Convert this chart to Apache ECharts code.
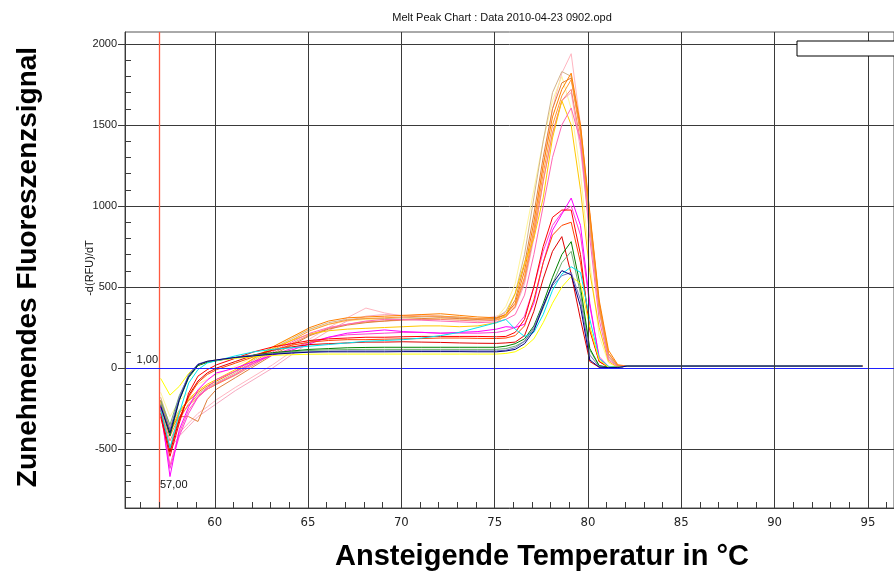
<!DOCTYPE html>
<html><head><meta charset="utf-8">
<script src="https://cdn.jsdelivr.net/npm/echarts@6/dist/echarts.min.js"></script>
<style>html,body{margin:0;padding:0;background:#fff}#c{width:894px;height:574px}</style>
</head><body><div id="c"></div>
<script>
// Temperatures (°C) at which each melt curve is sampled
const temps = [57.1,57.6,58.1,58.6,59.1,59.6,60.1,61.1,62.1,63.1,
  64.1,65.1,66.1,67.1,68.1,69.1,70.1,71.1,72.1,73.1,
  74.1,75.1,75.6,76.1,76.6,77.1,77.6,78.1,78.6,79.1,
  79.6,80.1,80.6,81.1,81.6,82.1,85.1,90.1,94.7];

// -d(RFU)/dT values per well
const lightPink = [-240,-480,-400,-340,-280,-240,-195,-120,-50,20, 100,180,250,310,370,340,320,330,320,310, 300,320,340,390,560,860,1250,1600,1820,1940, 1500,950,400,80,15,12,12,12,12];
const orange = [-200,-400,-280,-200,-150,-110,-80,-20,60,130, 190,250,290,310,315,320,325,330,335,325, 315,310,330,400,600,900,1250,1550,1720,1820, 1500,960,420,110,20,12,12,12,12];
const orange2 = [-220,-420,-300,-230,-180,-130,-100,-40,40,110, 170,230,270,295,305,310,315,320,320,315, 305,300,315,380,560,850,1200,1500,1680,1780, 1450,920,380,90,15,12,12,12,12];
const tan = [-180,-360,-260,-200,-160,-120,-90,-30,50,120, 180,240,280,300,305,305,310,315,320,310, 300,310,350,460,700,1050,1400,1700,1830,1800, 1450,900,380,70,10,12,12,12,12];
const paleYellow = [-150,-300,-200,-150,-100,-70,-40,10,70,130, 190,240,270,290,300,300,300,305,305,300, 300,310,380,520,800,1100,1400,1650,1800,1600, 1200,650,200,30,5,12,12,12,12];
const gold = [-210,-390,-270,-190,-140,-100,-70,-10,60,120, 170,210,230,240,245,250,255,260,260,255, 260,280,330,460,650,800,1050,1420,1650,1500, 1100,590,250,40,5,12,12,12,12];
const hotPink = [-230,-600,-400,-260,-180,-130,-95,-40,30,100, 160,215,250,270,290,300,300,295,290,285, 280,285,300,330,450,700,1000,1300,1500,1605, 1400,800,300,50,10,12,12,12,12];
const salmon = [-250,-450,-320,-220,-170,-130,-100,-45,20,90, 150,205,245,270,285,290,295,300,300,295, 290,295,320,380,540,820,1150,1450,1650,1720, 1400,880,360,70,10,12,12,12,12];
const chocolate = [-200,-380,-300,-300,-330,-195,-130,-60,10,80, 140,200,240,265,280,290,300,305,310,305, 300,305,330,420,640,950,1300,1600,1760,1790, 1480,940,400,90,15,12,12,12,12];
const pink = [-260,-500,-420,-360,-300,-260,-220,-140,-70,0, 80,160,230,290,320,330,325,320,315,310, 305,310,330,370,520,800,1150,1450,1650,1700, 1350,850,350,60,10,12,12,12,12];
const magenta = [-240,-670,-380,-240,-135,-75,-30,0,40,80, 110,150,190,215,225,235,225,220,215,220, 225,240,255,250,270,400,650,850,950,1049, 880,400,60,10,5,12,12,12,12];
const magenta2 = [-280,-620,-420,-280,-180,-120,-70,-20,30,80, 120,160,190,205,210,215,220,220,215,215, 215,220,230,250,320,500,720,880,960,1000, 820,380,70,10,5,12,12,12,12];
const red = [-300,-545,-340,-155,-50,-10,20,60,100,130, 150,170,180,185,190,190,193,195,195,195, 195,193,195,220,300,500,750,930,975,975, 700,230,40,5,5,12,12,12,12];
const red2 = [-280,-520,-320,-170,-80,-30,0,40,80,110, 130,145,150,155,160,160,162,160,158,155, 153,152,155,160,200,350,550,720,811,580, 300,40,5,5,5,12,12,12,12];
const orangeRed = [-260,-500,-310,-180,-90,-40,-10,30,70,110, 140,160,170,175,175,178,180,182,185,185, 183,182,185,200,260,420,650,820,880,900, 650,250,40,5,5,12,12,12,12];
const green = [-230,-420,-200,-60,15,35,45,65,80,95, 105,115,120,125,127,128,128,128,128,128, 128,128,135,150,180,260,400,560,700,780, 500,120,15,5,5,12,12,12,12];
const lightGreen = [-200,-350,-170,-50,15,38,48,63,78,90, 100,108,112,114,115,115,115,115,115,115, 115,115,120,135,165,240,370,520,650,720, 460,110,12,5,5,12,12,12,12];
const slateBlue = [-220,-380,-180,-40,25,42,50,66,78,88, 95,100,104,106,106,106,106,106,106,106, 106,106,110,125,165,250,390,510,570,590, 420,80,8,3,3,12,12,12,12];
const navy = [-237,-401,-195,-52,21,41,50,65,75,85, 92,98,100,100,100,100,101,101,101,101, 100,100,105,115,150,230,380,520,601,575, 380,50,5,3,3,12,12,12,12];
const cyan = [-257,-494,-278,-93,-10,31,45,75,100,115, 125,135,145,155,165,170,175,185,200,220, 250,280,300,240,195,220,330,480,580,625, 590,300,60,10,5,12,12,12,12];
const yellow = [-64,-167,-113,-33,20,41,50,60,70,78, 82,85,86,86,86,86,86,86,86,86, 86,86,90,100,130,180,280,400,500,565, 520,250,50,5,5,12,12,12,12];

// Tick labels
const xMajor = [60,65,70,75,80,85,90,95];
const yMajor = [-500,0,500,1000,1500,2000];
const thresholdTemp = 57.05;
const thresholdValue = 0;

const curves = [
  ['lightPink', '#ffb6c1', lightPink], ['paleYellow', '#fff59a', paleYellow],
  ['pink', '#f7a8c0', pink], ['salmon', '#fa8072', salmon],
  ['tan', '#d2b48c', tan], ['chocolate', '#e0803c', chocolate],
  ['orange2', '#ff9933', orange2], ['orange', '#ff8000', orange],
  ['gold', '#ffc800', gold], ['hotPink', '#ff69b4', hotPink],
  ['magenta2', '#ff40d0', magenta2], ['magenta', '#ff00ff', magenta],
  ['orangeRed', '#ff4500', orangeRed], ['red', '#ff0000', red], ['red2', '#e00000', red2],
  ['lightGreen', '#70b070', lightGreen], ['green', '#008000', green],
  ['cyan', '#00e5ee', cyan], ['yellow', '#ffff00', yellow],
  ['slateBlue', '#7070c0', slateBlue], ['navy', '#000080', navy]
];

const yMinor = [];
for (let v = -800; v <= 2000; v += 100) if (v % 500) yMinor.push(v);

const X_MIN = 55.19, X_MAX = 96.40, Y_MIN = -864, Y_MAX = 2074;
const axisColor = '#3a3a3a';
const narrow = "'Liberation Sans Narrow','DejaVu Sans Condensed',Arial,sans-serif";
const sans = "'Liberation Sans',Arial,sans-serif";

const series = curves.map(c => ({
  name: c[0], type: 'line', symbol: 'none', showSymbol: false,
  lineStyle: { width: 1, color: c[1] }, itemStyle: { color: c[1] },
  data: temps.map((t, i) => [t, c[2][i]]), silent: true
}));
series.push({
  type: 'line', data: [], silent: true, z: 5,
  markLine: {
    symbol: 'none', silent: true, animation: false, label: { show: false },
    data: [
      { xAxis: thresholdTemp, lineStyle: { color: '#ff5a40', width: 1.3, type: 'solid', opacity: 1 } },
      { yAxis: thresholdValue, lineStyle: { color: '#1f1fff', width: 1, type: 'solid', opacity: 1 } }
    ]
  }
});

const chart = echarts.init(document.getElementById('c'));
chart.setOption({
  animation: false,
  backgroundColor: '#fff',
  grid: { left: 125, top: 32, right: -2, bottom: 66, show: true, borderColor: '#555', borderWidth: 1, backgroundColor: '#fff' },
  xAxis: [{
    type: 'value', min: X_MIN, max: X_MAX, position: 'bottom', z: 10,
    splitNumber: 8, minInterval: 5, maxInterval: 5,
    axisLine: { show: true, onZero: false, lineStyle: { color: axisColor, width: 1 } },
    axisTick: { show: true, inside: true, length: 6, lineStyle: { color: axisColor, width: 1 } },
    minorTick: { show: true, splitNumber: 5, length: 6, lineStyle: { color: axisColor, width: 1 } },
    axisLabel: { customValues: xMajor, fontFamily: narrow, fontSize: 13, color: '#222', margin: 8, formatter: v => String(v) },
    splitLine: { show: true, lineStyle: { color: axisColor, width: 1 } }
  }],
  yAxis: [{
    type: 'value', min: Y_MIN, max: Y_MAX, position: 'left',
    axisLine: { show: true, onZero: false, lineStyle: { color: axisColor, width: 1 } },
    axisTick: { show: true, length: 7, customValues: yMajor, lineStyle: { color: axisColor } },
    axisLabel: { customValues: yMajor, fontFamily: sans, fontSize: 11, color: '#222', margin: 8, formatter: v => String(v) },
    splitLine: { show: true, lineStyle: { color: axisColor, width: 1 } }
  }, {
    type: 'value', min: Y_MIN, max: Y_MAX, position: 'left', offset: 0,
    axisLine: { show: false, onZero: false }, axisLabel: { show: false }, splitLine: { show: false },
    axisTick: { show: true, inside: true, length: 6, customValues: yMinor, lineStyle: { color: axisColor } }
  }],
  series: series,
  graphic: [
    { type: 'text', x: 502, y: 18, style: { text: 'Melt Peak Chart : Data 2010-04-23 0902.opd', font: '11px ' + sans, fill: '#111', align: 'center', verticalAlign: 'middle' } },
    { type: 'text', x: 90, y: 268, rotation: Math.PI / 2, style: { text: '-d(RFU)/dT', font: '11px ' + sans, fill: '#111', align: 'center', verticalAlign: 'middle' } },
    { type: 'text', x: 28, y: 267, rotation: Math.PI / 2, style: { text: 'Zunehmendes Fluoreszenzsignal', font: 'bold 28px ' + sans, fill: '#000', align: 'center', verticalAlign: 'middle' } },
    { type: 'text', x: 542, y: 557, style: { text: 'Ansteigende Temperatur in °C', font: 'bold 29px ' + sans, fill: '#000', align: 'center', verticalAlign: 'middle' } },
    { type: 'rect', z: 100, shape: { x: 797, y: 41, width: 110, height: 15 }, style: { fill: '#fff', stroke: '#000', lineWidth: 1 } },
    { type: 'text', z: 100, x: 158, y: 360, style: { text: '1,00', font: '11px ' + sans, fill: '#111', align: 'right', verticalAlign: 'middle' } },
    { type: 'text', z: 100, x: 160, y: 485, style: { text: '57,00', font: '11px ' + sans, fill: '#111', align: 'left', verticalAlign: 'middle' } }
  ]
});
</script></body></html>
